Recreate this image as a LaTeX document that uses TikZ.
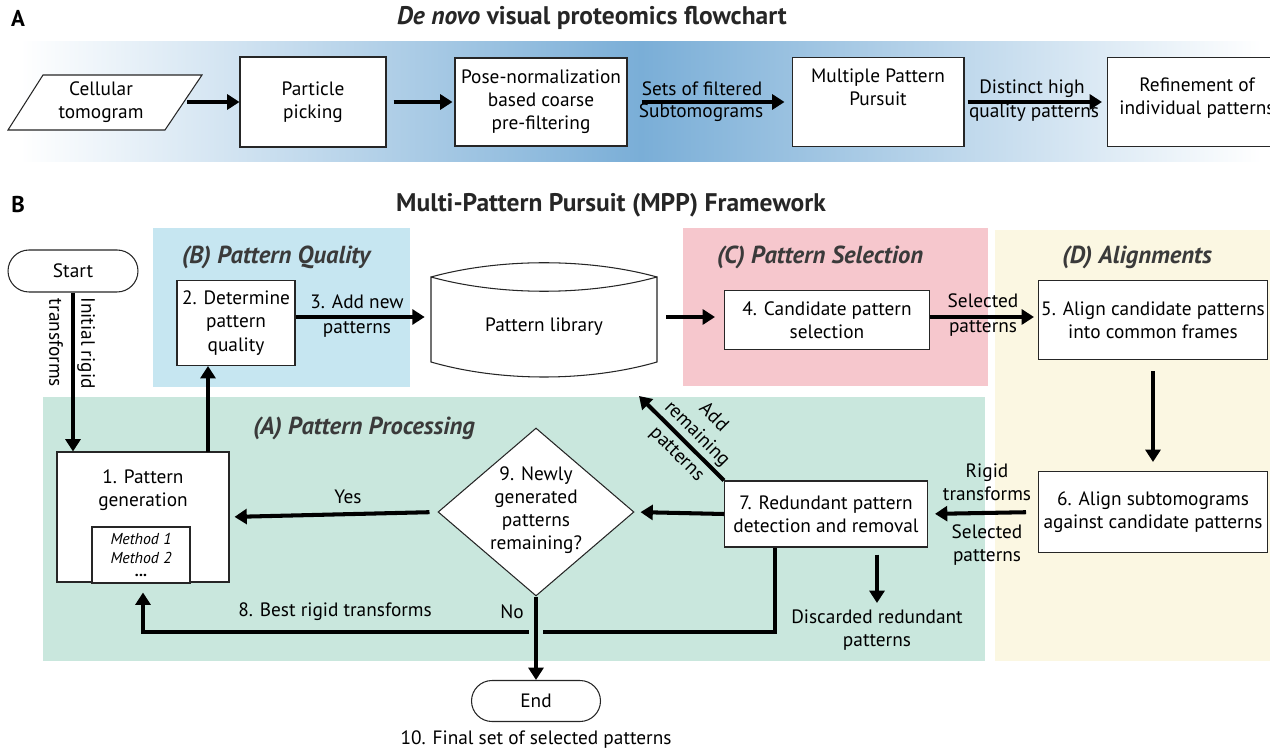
\documentclass[tikz,border=0pt]{standalone}
\usepackage{fontspec}
\setmainfont{PT Sans}
\usetikzlibrary{arrows.meta,shapes.geometric}

\definecolor{bandblue}{RGB}{122,174,215}
\definecolor{qualblue}{RGB}{198,230,241}
\definecolor{procgreen}{RGB}{201,231,221}
\definecolor{selpink}{RGB}{246,199,205}
\definecolor{alignyellow}{RGB}{251,247,226}
\definecolor{headgray}{RGB}{58,58,58}

\tikzset{
  box/.style={draw=black!85, line width=0.6pt, fill=white, align=center, inner sep=0pt},
  lbl/.style={align=center, inner sep=0pt},
  arr/.style={line width=2.3pt, -{Triangle[length=7pt,width=8.5pt]}},
  panel/.style={font=\fontsize{13}{15}\selectfont\bfseries},
  title/.style={font=\fontsize{14.5}{17}\selectfont\bfseries, text=black!85},
  head/.style={font=\fontsize{14}{16}\selectfont\bfseries\itshape, text=headgray},
}

\begin{document}
\begin{tikzpicture}[x=0.02cm, y=-0.02cm, font=\fontsize{11}{13.2}\selectfont]
        \useasboundingbox (0,0) rectangle (1270,749);

        % Panel A
        \node[panel] (labA) at (18,18) {A};
        \node[title] (titleA) at (592,18) {\textit{De novo} visual proteomics flowchart};
        \shade[left color=white, right color=white, middle color=bandblue] (20,42) rectangle (1262,162);

        \draw[box] (8,130) -- (43,75) -- (202,75) -- (165,130) -- cycle;
        \node[lbl] (tomo) at (101,102) {Cellular\\tomogram};
        \coordinate (tomoR) at (187,102);

        \node[box, minimum width=2.92cm, minimum height=1.8cm] (pick) at (313,102) {Particle\\picking};
        \node[box, minimum width=3.44cm, minimum height=1.76cm] (pose) at (541,102) {Pose-normalization\\based coarse\\pre-filtering};
        \node[box, minimum width=3.44cm, minimum height=1.78cm] (mpp) at (878,102) {Multiple Pattern\\Pursuit\\[4pt]};
        \node[box, minimum width=3.9cm, minimum height=1.78cm] (refine) at (1205,102) {};
        \node[lbl] (refineT) at (1197,98) {Refinement of\\individual patterns};

        \draw[arr] (tomoR) -- (pick.west);
        \draw[arr, shorten <=0.14cm, shorten >=0.04cm] (pick.east) -- (pose.west);
        \draw[arr, shorten <=0.28cm, shorten >=0.14cm] (pose.east) -- (mpp.west);
        \node[lbl] (setsA) at (702,89) {Sets of filtered};
        \node[lbl] (setsB) at (701,113) {Subtomograms};
        \draw[arr, shorten <=0.06cm, shorten >=0.1cm] (mpp.east) -- (refine.west);
        \node[lbl] (distA) at (1032,89) {Distinct high};
        \node[lbl] (distB) at (1034,113) {quality patterns};

        % Panel B
        \node[panel] (labB) at (18,205) {B};
        \node[title] (titleB) at (611,205) {Multi-Pattern Pursuit (MPP) Framework};

        \fill[qualblue] (153,228) rectangle (410,387);
        \fill[selpink] (683,228) rectangle (988,386);
        \fill[alignyellow] (995,230) rectangle (1275,661);
        \fill[procgreen] (43,397) rectangle (985,661);

        \node[head] (headB) at (276,257) {(B) Pattern Quality};
        \node[head] (headC) at (820,257) {(C) Pattern Selection};
        \node[head] (headD) at (1137,257) {(D) Alignments};
        \node[head] (headA) at (364,428) {(A) Pattern Processing};

        % Start and pattern quality
        \node[box, minimum width=2.6cm, minimum height=0.84cm, rounded corners=0.42cm] (start) at (73,271) {Start};
        \node[box, minimum width=2.36cm, minimum height=1.7cm] (box2) at (236,323) {2. Determine\\pattern\\quality};

        % Pattern library
        \draw[box] (431,277) .. controls (500,296) and (588,296) .. (657,277)
                -- (657,362) .. controls (588,382) and (500,382) .. (431,362) -- cycle;
        \draw[box] (431,277) .. controls (500,258) and (588,258) .. (657,277);
        \node[lbl, minimum width=4.52cm, minimum height=2cm] (lib) at (544,327) {Pattern library};

        % Pattern selection and alignments
        \node[box, minimum width=4.1cm, minimum height=1.18cm] (box4) at (827,320) {4. Candidate pattern\\selection};
        \node[box, minimum width=4.58cm, minimum height=1.58cm] (box5) at (1153,320) {5. Align candidate patterns\\into common frames};
        \node[box, minimum width=4.58cm, minimum height=1.62cm] (box6) at (1153,512) {6. Align subtomograms\\against candidate patterns};

        % Pattern processing
        \node[box, minimum width=3.44cm, minimum height=2.6cm] (box1) at (143,517) {};
        \node[lbl] (gen) at (143,490) {1. Pattern\\generation};
        \node[box, minimum width=1.96cm, minimum height=1.12cm, font=\fontsize{9}{10.8}\selectfont\itshape] (methods) at (141,555) {Method 1\\Method 2\\[-3pt]\textbf{\upshape...}};
        \node[box, diamond, minimum width=3.92cm, minimum height=3.36cm] (dec) at (536,512) {};
        \node[lbl] (decT) at (536,510) {9. Newly\\generated\\patterns\\remaining?};
        \node[box, minimum width=4.06cm, minimum height=1.32cm] (box7) at (826,514) {7. Redundant pattern\\detection and removal};
        \node[lbl] (discard) at (877,630) {Discarded redundant\\patterns};
        \node[box, minimum width=2.58cm, minimum height=0.82cm, rounded corners=0.41cm] (end) at (536,701) {End};
        \node[lbl] (final) at (536,740) {10. Final set of selected patterns};

        % Connectors
        \coordinate (up1) at (208,452);
        \coordinate (discTop) at (877,603);
        \coordinate (libIn) at (639,396);
        \coordinate (dropX) at (775,0);
        \coordinate (bend) at (143,632);

        \draw[arr] (start.south) -- (start.south |- box1.north);
        \node[lbl, rotate=-90] (initT) at (72,343) {Initial rigid\\[5pt]transforms};
        \draw[arr] (up1) -- (up1 |- box2.south);
        \draw[arr, shorten >=0.12cm] ([yshift=0.12cm]box2.east) -- ([yshift=0.12cm]box2.east -| lib.west);
        \node[lbl] (addA) at (357,302) {3. Add new};
        \node[lbl] (addB) at (357,329) {patterns};
        \draw[arr, shorten <=0.18cm, shorten >=0.18cm] ([yshift=0.06cm]box4.west -| lib.east) -- ([yshift=0.06cm]box4.west);
        \draw[arr, shorten >=0.08cm] ([yshift=0.06cm]box4.east) -- ([yshift=0.06cm]box4.east -| box5.west);
        \node[lbl] (selA) at (983,301) {Selected};
        \node[lbl] (selB) at (983,328) {patterns};
        \draw[arr, shorten <=0.22cm, shorten >=0.18cm] (box5.south) -- (box6.north);
        \draw[arr, shorten <=0.24cm, shorten >=0.14cm] (box6.west) -- (box7.east);
        \node[lbl] (rigA) at (987,482) {Rigid\\transforms};
        \node[lbl] (rigB) at (987,545) {Selected\\patterns};
        \draw[arr, shorten >=0.12cm] (box7.west) -- (dec.east);
        \draw[arr, shorten <=0.16cm, shorten >=0.1cm] (dec.west) -- (box1.east);
        \node[lbl] (yes) at (348,497) {Yes};
        \draw[arr] (box7.north west) -- (libIn);
        \node[lbl, rotate=-45] (addRem) at (695,436) {Add\\remaining\\[3pt]patterns};
        \draw[arr, shorten <=0.14cm] (box7.south -| discTop) -- (discTop);
        \draw[arr, shorten >=0.2cm] (box7.south -| dropX) |- (bend) -- (box1.south);
        \node[lbl] (best) at (335,612) {8. Best rigid transforms};
        \node[lbl] (no) at (512,612) {No};
        \draw[procgreen, line width=8pt] (536,626) -- (536,638);
        \draw[arr] (dec.south) -- (end.north);
\end{tikzpicture}
\end{document}
